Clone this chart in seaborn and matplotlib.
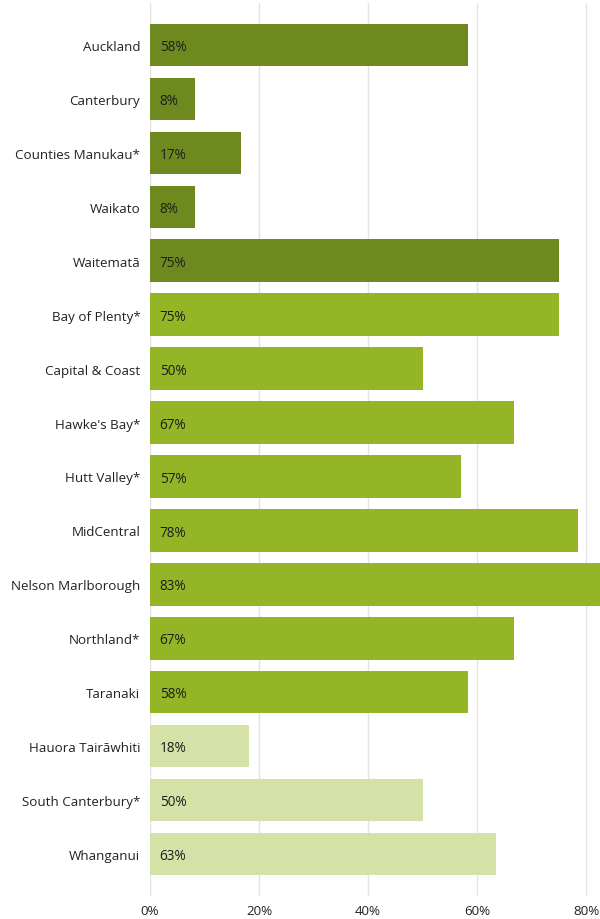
import matplotlib
matplotlib.use("Agg")
import matplotlib.pyplot as plt
import seaborn as sns
import pandas as pd

categories = ["Auckland", "Canterbury", "Counties Manukau*", "Waikato", "Waitematā",
              "Bay of Plenty*", "Capital & Coast", "Hawke's Bay*", "Hutt Valley*", "MidCentral",
              "Nelson Marlborough", "Northland*", "Taranaki", "Hauora Tairāwhiti",
              "South Canterbury*", "Whanganui"]
values = [58.3, 8.3, 16.7, 8.3, 75.0,
          75.0, 50.0, 66.7, 57.1, 78.4,
          83.3, 66.7, 58.3, 18.2,
          50.0, 63.4]
groups = ["A"] * 5 + ["B"] * 8 + ["C"] * 3
group_colors = {"A": "#6E891D", "B": "#94B526", "C": "#D4E2A8"}
xticks = [0, 20, 40, 60, 80]

df = pd.DataFrame({"cat": categories, "val": values, "grp": groups})

sns.set_theme(style="white")
plt.rcParams["font.family"] = ["Open Sans", "DejaVu Sans"]

fig = plt.figure(figsize=(6, 9.2), dpi=100)
ax = fig.add_axes([0.25, 0.025, 0.75, 0.9707])

palette = {c: group_colors[g] for c, g in zip(categories, groups)}
sns.barplot(data=df, x="val", y="cat", hue="cat", palette=palette, legend=False,
            width=0.79, saturation=1, linewidth=0, edgecolor="none", ax=ax, zorder=2)

for i, v in enumerate(values):
    ax.annotate(f"{round(v)}%", xy=(0, i), xytext=(7, -1.2), textcoords="offset points",
                ha="left", va="center", fontsize=9.8, color="#1E1E1E", zorder=3)

ax.set_xlim(0, 82.5)
ax.set_ylim(15.78, -0.78)
ax.set_xticks(xticks)
ax.set_xticklabels([f"{t}%" for t in xticks], fontsize=9.6, color="#222222")
ax.tick_params(axis="y", labelsize=9.6, labelcolor="#222222", pad=7, length=0)
ax.tick_params(axis="x", pad=6, length=0)
ax.set_xlabel("")
ax.set_ylabel("")
ax.grid(axis="x", color="#E3E3E3", linewidth=1, zorder=0)
ax.grid(axis="y", visible=False)
for s in ax.spines.values():
    s.set_visible(False)

fig.savefig("out.png", dpi=100)
